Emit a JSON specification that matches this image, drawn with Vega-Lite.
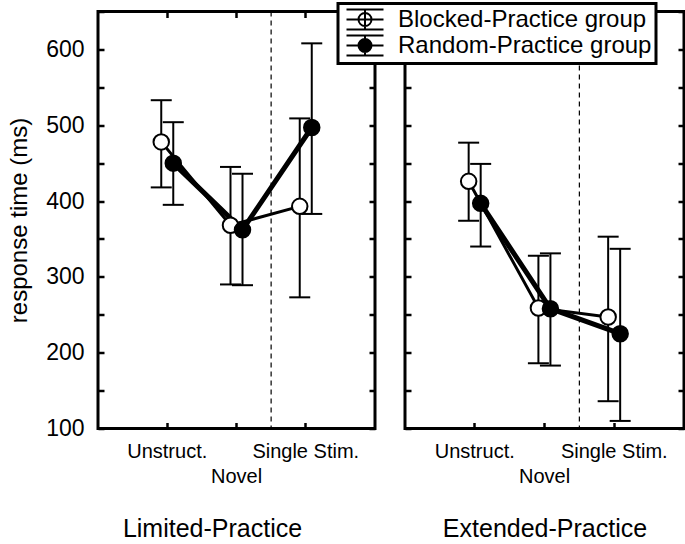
{
  "$schema": "https://vega.github.io/schema/vega-lite/v6.json",
  "padding": {"left": 5, "top": 1.5, "right": 3, "bottom": 5},
  "background": "white",
  "datasets": {
    "rt": [
      {"panel": "Limited-Practice", "cond": "Unstruct.", "group": "Blocked-Practice group", "mean": 478, "lo": 418, "hi": 533},
      {"panel": "Limited-Practice", "cond": "Novel", "group": "Blocked-Practice group", "mean": 368, "lo": 290, "hi": 445},
      {"panel": "Limited-Practice", "cond": "Single Stim.", "group": "Blocked-Practice group", "mean": 393, "lo": 273, "hi": 509},
      {"panel": "Limited-Practice", "cond": "Unstruct.", "group": "Random-Practice group", "mean": 450, "lo": 395, "hi": 504},
      {"panel": "Limited-Practice", "cond": "Novel", "group": "Random-Practice group", "mean": 362, "lo": 289, "hi": 436},
      {"panel": "Limited-Practice", "cond": "Single Stim.", "group": "Random-Practice group", "mean": 497, "lo": 383, "hi": 608},
      {"panel": "Extended-Practice", "cond": "Unstruct.", "group": "Blocked-Practice group", "mean": 426, "lo": 374, "hi": 477},
      {"panel": "Extended-Practice", "cond": "Novel", "group": "Blocked-Practice group", "mean": 259, "lo": 186, "hi": 328},
      {"panel": "Extended-Practice", "cond": "Single Stim.", "group": "Blocked-Practice group", "mean": 247, "lo": 136, "hi": 353},
      {"panel": "Extended-Practice", "cond": "Unstruct.", "group": "Random-Practice group", "mean": 397, "lo": 340, "hi": 449},
      {"panel": "Extended-Practice", "cond": "Novel", "group": "Random-Practice group", "mean": 258, "lo": 183, "hi": 331},
      {"panel": "Extended-Practice", "cond": "Single Stim.", "group": "Random-Practice group", "mean": 225, "lo": 110, "hi": 337}
    ],
    "divider": [{"boundary": 2.5}]
  },
  "config": {
    "font": "Liberation Sans",
    "view": {"stroke": "black", "strokeWidth": 3},
    "axis": {
      "domain": false, "grid": false, "ticks": true,
      "tickColor": "black", "tickWidth": 2.5, "tickSize": 6, "offset": -6,
      "labelColor": "black", "titleColor": "black",
      "labelFont": "Liberation Sans", "titleFont": "Liberation Sans",
      "titleFontWeight": "normal"
    },
    "axisX": {"labelFontSize": 20, "titleFontSize": 25},
    "axisY": {"labelFontSize": 23, "titleFontSize": 24},
    "legend": {"strokeWidth": 3}
  },
  "spacing": 30,
  "bounds": "flush",
  "resolve": {"scale": {"fill": "shared"}, "legend": {"fill": "shared"}},
  "hconcat": [
    {
      "width": 277, "height": 417,
      "data": {"name": "rt"},
      "transform": [{"filter": "datum.panel == 'Limited-Practice'"}],
      "layer": [
        {
          "mark": {"type": "rule", "color": "black", "strokeWidth": 2},
          "encoding": {
            "x": {"field": "cond", "type": "nominal",
              "scale": {"type": "band", "domain": ["Unstruct.", "Novel", "Single Stim."], "paddingInner": 0.653, "paddingOuter": 0.8266},
              "axis": {"orient": "bottom", "labelAngle": 0, "labelBaseline": "alphabetic",
                "labelPadding": {"condition": {"test": "datum.value == 'Novel'", "value": 54}, "value": 29},
                "title": "Limited-Practice", "titleX": 114, "titleY": 114, "titleBaseline": "alphabetic"}},
            "xOffset": {"field": "group", "type": "nominal", "scale": {"paddingInner": 0, "paddingOuter": 0}},
            "y": {"field": "lo", "type": "quantitative", "scale": {"domain": [100, 650]},
              "axis": {"values": [100, 150, 200, 250, 300, 350, 400, 450, 500, 550, 600, 650], "orient": "left",
                "labelExpr": "datum.value % 100 == 0 && datum.value <= 600 ? datum.label : ''",
                "labelPadding": 14,
                "title": "response time (ms)", "titleX": -85, "titleBaseline": "middle"}},
            "y2": {"field": "hi"}
          }
        },
        {
          "mark": {"type": "tick", "orient": "horizontal", "color": "black", "thickness": 2, "size": 21, "opacity": 1},
          "encoding": {
            "x": {"field": "cond", "type": "nominal",
              "scale": {"type": "band", "domain": ["Unstruct.", "Novel", "Single Stim."], "paddingInner": 0.653, "paddingOuter": 0.8266}, "axis": null},
            "xOffset": {"field": "group", "type": "nominal", "scale": {"paddingInner": 0, "paddingOuter": 0}},
            "y": {"field": "lo", "type": "quantitative", "axis": null}
          }
        },
        {
          "mark": {"type": "tick", "orient": "horizontal", "color": "black", "thickness": 2, "size": 21, "opacity": 1},
          "encoding": {
            "x": {"field": "cond", "type": "nominal",
              "scale": {"type": "band", "domain": ["Unstruct.", "Novel", "Single Stim."], "paddingInner": 0.653, "paddingOuter": 0.8266},
              "axis": {"orient": "top", "labels": false, "title": null}},
            "xOffset": {"field": "group", "type": "nominal", "scale": {"paddingInner": 0, "paddingOuter": 0}},
            "y": {"field": "hi", "type": "quantitative",
              "axis": {"values": [100, 150, 200, 250, 300, 350, 400, 450, 500, 550, 600, 650], "orient": "right", "labels": false, "title": null}}
          }
        },
        {
          "transform": [{"filter": "datum.group == 'Blocked-Practice group'"}],
          "mark": {"type": "line", "color": "black", "strokeWidth": 3},
          "encoding": {
            "x": {"field": "cond", "type": "nominal",
              "scale": {"type": "band", "domain": ["Unstruct.", "Novel", "Single Stim."], "paddingInner": 0.653, "paddingOuter": 0.8266}, "axis": null},
            "xOffset": {"field": "group", "type": "nominal", "scale": {"domain": ["Blocked-Practice group", "Random-Practice group"], "paddingInner": 0, "paddingOuter": 0}},
            "y": {"field": "mean", "type": "quantitative", "axis": null}
          }
        },
        {
          "transform": [{"filter": "datum.group == 'Random-Practice group'"}],
          "mark": {"type": "line", "color": "black", "strokeWidth": 5},
          "encoding": {
            "x": {"field": "cond", "type": "nominal",
              "scale": {"type": "band", "domain": ["Unstruct.", "Novel", "Single Stim."], "paddingInner": 0.653, "paddingOuter": 0.8266}, "axis": null},
            "xOffset": {"field": "group", "type": "nominal", "scale": {"domain": ["Blocked-Practice group", "Random-Practice group"], "paddingInner": 0, "paddingOuter": 0}},
            "y": {"field": "mean", "type": "quantitative", "axis": null}
          }
        },
        {
          "mark": {"type": "point", "shape": "circle", "filled": true, "stroke": "black", "strokeWidth": 2, "size": 240, "opacity": 1},
          "encoding": {
            "x": {"field": "cond", "type": "nominal",
              "scale": {"type": "band", "domain": ["Unstruct.", "Novel", "Single Stim."], "paddingInner": 0.653, "paddingOuter": 0.8266}, "axis": null},
            "xOffset": {"field": "group", "type": "nominal", "scale": {"paddingInner": 0, "paddingOuter": 0}},
            "y": {"field": "mean", "type": "quantitative", "axis": null},
            "fill": {"field": "group", "type": "nominal",
              "scale": {"domain": ["Blocked-Practice group", "Random-Practice group"], "range": ["white", "black"]},
              "legend": {"title": null, "orient": "none", "legendX": 240, "legendY": -8,
                "symbolType": "M -1.85 -1 L 1.85 -1 M -1.85 0 L 1.85 0 M -1.85 1 L 1.85 1 M 0 -1 L 0 1 M -0.65 0 A 0.65 0.65 0 1 0 0.65 0 A 0.65 0.65 0 1 0 -0.65 0 Z",
                "symbolSize": 400, "symbolStrokeColor": "black", "symbolStrokeWidth": 2, "symbolOpacity": 1,
                "symbolOffset": 11, "labelOffset": 21, "labelLimit": 400,
                "labelFontSize": 24, "labelFont": "Liberation Sans", "labelColor": "black",
                "strokeColor": "black", "fillColor": "white", "padding": 4, "rowPadding": -2}}
          }
        },
        {
          "data": {"name": "divider"},
          "mark": {"type": "rule", "color": "black", "strokeWidth": 1.2, "strokeDash": [5, 4]},
          "encoding": {"x": {"field": "boundary", "type": "quantitative", "scale": {"domain": [0, 4]}, "axis": null}}
        }
      ],
      "resolve": {"scale": {"x": "independent"}, "axis": {"x": "independent", "y": "independent"}}
    },
    {
      "width": 279, "height": 417,
      "data": {"name": "rt"},
      "transform": [{"filter": "datum.panel == 'Extended-Practice'"}],
      "layer": [
        {
          "mark": {"type": "rule", "color": "black", "strokeWidth": 2},
          "encoding": {
            "x": {"field": "cond", "type": "nominal",
              "scale": {"type": "band", "domain": ["Unstruct.", "Novel", "Single Stim."], "paddingInner": 0.653, "paddingOuter": 0.8266},
              "axis": {"orient": "bottom", "labelAngle": 0, "labelBaseline": "alphabetic",
                "labelPadding": {"condition": {"test": "datum.value == 'Novel'", "value": 54}, "value": 29},
                "title": "Extended-Practice", "titleY": 114, "titleBaseline": "alphabetic"}},
            "xOffset": {"field": "group", "type": "nominal", "scale": {"paddingInner": 0, "paddingOuter": 0}},
            "y": {"field": "lo", "type": "quantitative", "scale": {"domain": [100, 650]},
              "axis": {"values": [100, 150, 200, 250, 300, 350, 400, 450, 500, 550, 600, 650], "orient": "left", "labels": false, "title": null}},
            "y2": {"field": "hi"}
          }
        },
        {
          "mark": {"type": "tick", "orient": "horizontal", "color": "black", "thickness": 2, "size": 21, "opacity": 1},
          "encoding": {
            "x": {"field": "cond", "type": "nominal",
              "scale": {"type": "band", "domain": ["Unstruct.", "Novel", "Single Stim."], "paddingInner": 0.653, "paddingOuter": 0.8266}, "axis": null},
            "xOffset": {"field": "group", "type": "nominal", "scale": {"paddingInner": 0, "paddingOuter": 0}},
            "y": {"field": "lo", "type": "quantitative", "axis": null}
          }
        },
        {
          "mark": {"type": "tick", "orient": "horizontal", "color": "black", "thickness": 2, "size": 21, "opacity": 1},
          "encoding": {
            "x": {"field": "cond", "type": "nominal",
              "scale": {"type": "band", "domain": ["Unstruct.", "Novel", "Single Stim."], "paddingInner": 0.653, "paddingOuter": 0.8266},
              "axis": {"orient": "top", "labels": false, "title": null}},
            "xOffset": {"field": "group", "type": "nominal", "scale": {"paddingInner": 0, "paddingOuter": 0}},
            "y": {"field": "hi", "type": "quantitative",
              "axis": {"values": [100, 150, 200, 250, 300, 350, 400, 450, 500, 550, 600, 650], "orient": "right", "labels": false, "title": null}}
          }
        },
        {
          "transform": [{"filter": "datum.group == 'Blocked-Practice group'"}],
          "mark": {"type": "line", "color": "black", "strokeWidth": 3},
          "encoding": {
            "x": {"field": "cond", "type": "nominal",
              "scale": {"type": "band", "domain": ["Unstruct.", "Novel", "Single Stim."], "paddingInner": 0.653, "paddingOuter": 0.8266}, "axis": null},
            "xOffset": {"field": "group", "type": "nominal", "scale": {"domain": ["Blocked-Practice group", "Random-Practice group"], "paddingInner": 0, "paddingOuter": 0}},
            "y": {"field": "mean", "type": "quantitative", "axis": null}
          }
        },
        {
          "transform": [{"filter": "datum.group == 'Random-Practice group'"}],
          "mark": {"type": "line", "color": "black", "strokeWidth": 5},
          "encoding": {
            "x": {"field": "cond", "type": "nominal",
              "scale": {"type": "band", "domain": ["Unstruct.", "Novel", "Single Stim."], "paddingInner": 0.653, "paddingOuter": 0.8266}, "axis": null},
            "xOffset": {"field": "group", "type": "nominal", "scale": {"domain": ["Blocked-Practice group", "Random-Practice group"], "paddingInner": 0, "paddingOuter": 0}},
            "y": {"field": "mean", "type": "quantitative", "axis": null}
          }
        },
        {
          "mark": {"type": "point", "shape": "circle", "filled": true, "stroke": "black", "strokeWidth": 2, "size": 240, "opacity": 1},
          "encoding": {
            "x": {"field": "cond", "type": "nominal",
              "scale": {"type": "band", "domain": ["Unstruct.", "Novel", "Single Stim."], "paddingInner": 0.653, "paddingOuter": 0.8266}, "axis": null},
            "xOffset": {"field": "group", "type": "nominal", "scale": {"paddingInner": 0, "paddingOuter": 0}},
            "y": {"field": "mean", "type": "quantitative", "axis": null},
            "fill": {"field": "group", "type": "nominal",
              "scale": {"domain": ["Blocked-Practice group", "Random-Practice group"], "range": ["white", "black"]},
              "legend": {"title": null, "orient": "none", "legendX": 240, "legendY": -8,
                "symbolType": "M -1.85 -1 L 1.85 -1 M -1.85 0 L 1.85 0 M -1.85 1 L 1.85 1 M 0 -1 L 0 1 M -0.65 0 A 0.65 0.65 0 1 0 0.65 0 A 0.65 0.65 0 1 0 -0.65 0 Z",
                "symbolSize": 400, "symbolStrokeColor": "black", "symbolStrokeWidth": 2, "symbolOpacity": 1,
                "symbolOffset": 11, "labelOffset": 21, "labelLimit": 400,
                "labelFontSize": 24, "labelFont": "Liberation Sans", "labelColor": "black",
                "strokeColor": "black", "fillColor": "white", "padding": 4, "rowPadding": -2}}
          }
        },
        {
          "data": {"name": "divider"},
          "mark": {"type": "rule", "color": "black", "strokeWidth": 1.2, "strokeDash": [5, 4]},
          "encoding": {"x": {"field": "boundary", "type": "quantitative", "scale": {"domain": [0, 4]}, "axis": null}}
        }
      ],
      "resolve": {"scale": {"x": "independent"}, "axis": {"x": "independent", "y": "independent"}}
    }
  ]
}
